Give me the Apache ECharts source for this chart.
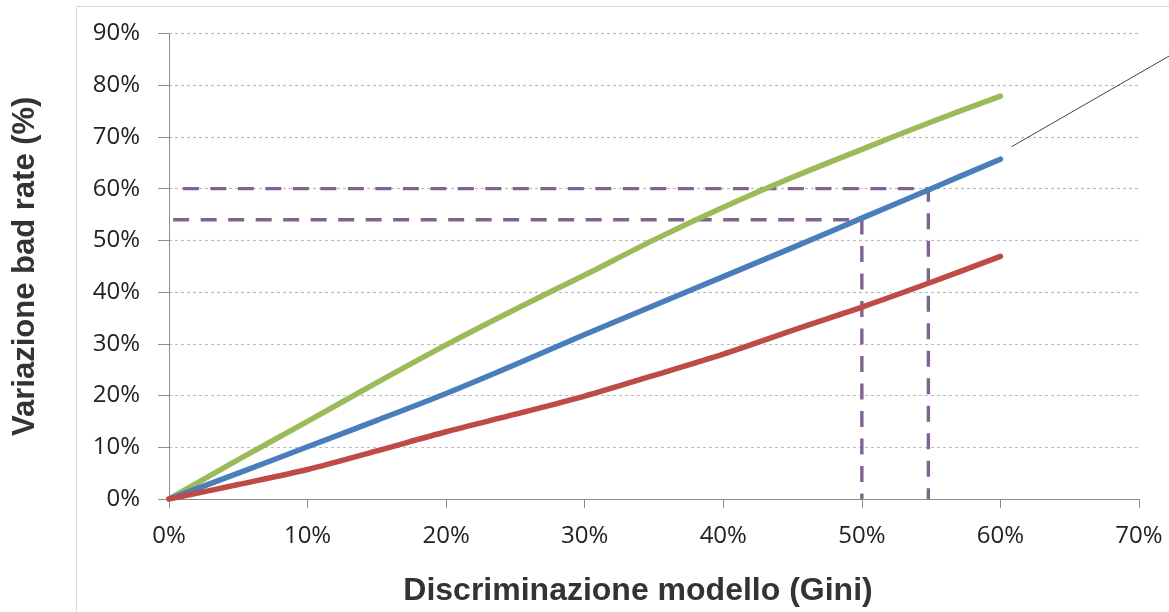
<!DOCTYPE html>
<html>
<head>
<meta charset="utf-8">
<script src="https://cdn.jsdelivr.net/npm/echarts@6/dist/echarts.min.js"></script>
<style>
html,body{margin:0;padding:0;background:#fff;}
#chart{width:1169px;height:612px;}
</style>
</head>
<body>
<div id="chart"></div>
<script>
// Gini (x, %) sampled every 5 points
const giniValues = [0, 5, 10, 15, 20, 25, 30, 35, 40, 45, 50, 55, 60];
const greenSeries = [0, 7.6, 15.0, 22.5, 29.8, 36.7, 43.3, 50.1, 56.4, 62.2, 67.6, 72.9, 77.9];
const blueSeries  = [0, 5.0, 10.1, 15.2, 20.4, 26.0, 31.8, 37.4, 43.0, 48.6, 54.3, 60.0, 65.7];
const redSeries   = [0, 2.8, 5.7, 9.3, 13.0, 16.4, 19.9, 23.9, 28.0, 32.6, 37.1, 41.9, 46.9];
// reference (dashed) lines: [x, y] in %
const refLineHigh = [[1.0, 60], [54.8, 60], [54.8, 0]];
const refLineLow  = [[0.3, 54], [50, 54], [50, 0]];
// leader line (data coordinates)
const leaderLine = [[60.8, 68.1], [72.6, 86.3]];
const xTicks = { min: 0, max: 70, interval: 10 };
const yTicks = { min: 0, max: 90, interval: 10 };
const xTitle = 'Discriminazione modello (Gini)';
const yTitle = 'Variazione bad rate (%)';

const pair = (xs, ys) => xs.map((x, i) => [x, ys[i]]);

const chart = echarts.init(document.getElementById('chart'), null, {renderer: 'canvas'});
const lineSeries = (data, color) => ({
  type: 'line', data, smooth: 0.3, showSymbol: false, symbol: 'none',
  lineStyle: {color, width: 5.5, cap: 'round', join: 'round'}, z: 3, silent: true
});
const dashSeries = (data) => ({
  type: 'line', data, showSymbol: false, symbol: 'none', smooth: false,
  lineStyle: {color: '#80638f', width: 3.4, type: [16, 11.5]}, z: 2, silent: true
});

chart.setOption({
  animation: false,
  backgroundColor: '#fff',
  grid: {left: 169, right: 30, top: 33.5, bottom: 113, containLabel: false},
  xAxis: {
    type: 'value', min: xTicks.min, max: xTicks.max, interval: xTicks.interval,
    name: xTitle, nameLocation: 'middle', nameGap: 76,
    nameTextStyle: {fontFamily: 'Liberation Sans, Arial', fontWeight: 'bold', fontSize: 32, color: '#333', padding: [0, 32, 0, 0]},
    axisLine: {show: true, onZero: false, lineStyle: {color: '#8c8c8c', width: 1}},
    axisTick: {show: true, length: 9, lineStyle: {color: '#8c8c8c'}},
    axisLabel: {formatter: '{value}%', fontFamily: 'Open Sans', fontSize: 24, color: '#222', margin: 25},
    splitLine: {show: false}
  },
  yAxis: {
    type: 'value', min: yTicks.min, max: yTicks.max, interval: yTicks.interval,
    name: yTitle, nameLocation: 'middle', nameGap: 128, nameRotate: 90,
    nameTextStyle: {fontFamily: 'Liberation Sans, Arial', fontWeight: 'bold', fontSize: 31, color: '#333'},
    axisLine: {show: true, lineStyle: {color: '#8c8c8c', width: 1}},
    axisTick: {show: true, length: 11, lineStyle: {color: '#8c8c8c'}},
    axisLabel: {formatter: '{value}%', fontFamily: 'Open Sans', fontSize: 24, color: '#222', margin: 29},
    splitLine: {show: true, lineStyle: {color: '#bdbdbd', width: 1.2, type: [3, 3]}}
  },
  series: [
    dashSeries(refLineHigh),
    dashSeries(refLineLow),
    lineSeries(pair(giniValues, greenSeries), '#9bbb59'),
    lineSeries(pair(giniValues, blueSeries), '#4a7ebb'),
    lineSeries(pair(giniValues, redSeries), '#be4b48')
  ]
});

const p1 = chart.convertToPixel({gridIndex: 0}, leaderLine[0]);
const p2 = chart.convertToPixel({gridIndex: 0}, leaderLine[1]);
chart.setOption({
  graphic: [
    {type: 'rect', shape: {x: 76.5, y: 6.5, width: 1200, height: 700},
     style: {fill: 'none', stroke: '#d9d9d9', lineWidth: 1}, z: -10, silent: true},
    {type: 'line', shape: {x1: p1[0], y1: p1[1], x2: p2[0], y2: p2[1]},
     style: {stroke: '#444', lineWidth: 1}, z: 10, silent: true}
  ]
});
</script>
</body>
</html>
